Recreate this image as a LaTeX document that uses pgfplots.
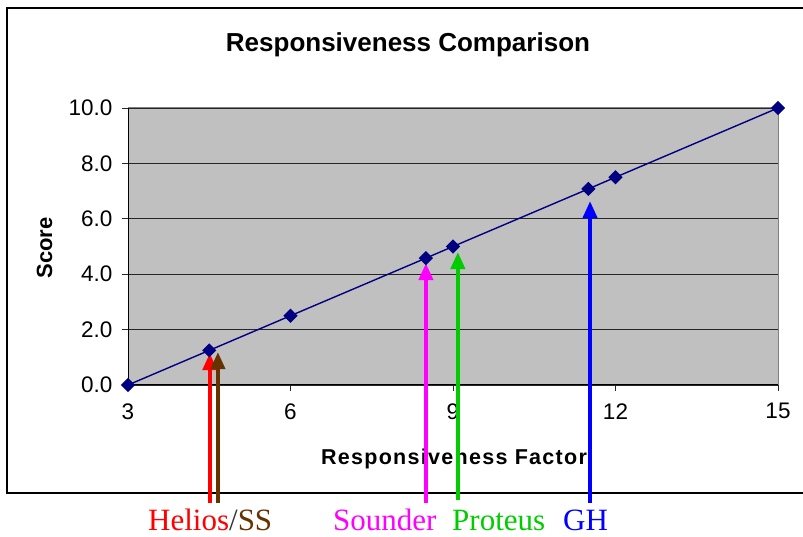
\documentclass[border=0pt]{standalone}
\usepackage{pgfplots}
\pgfplotsset{compat=1.18}
\usepackage{fontspec}
\setmainfont{Liberation Sans}
\newfontfamily\labelserif{Liberation Serif}
\usetikzlibrary{arrows.meta}

\definecolor{plotgray}{RGB}{192,192,192}
\definecolor{navyline}{RGB}{0,0,128}
\definecolor{ssbrown}{RGB}{102,51,0}
\definecolor{protgreen}{RGB}{0,204,0}
\definecolor{soundmag}{RGB}{255,0,255}
\definecolor{helred}{RGB}{255,0,0}
\definecolor{ghblue}{RGB}{0,0,255}

\tikzset{pointer/.style={line width=4bp, -{Triangle[length=17bp,width=14bp]}}}

\begin{document}
\begin{tikzpicture}
\useasboundingbox (0,0) rectangle (803bp,537bp);
\draw[line width=1.5bp] (7bp,44bp) rectangle (840bp,529bp);

% title and axis labels
\node[anchor=base, font=\fontsize{26bp}{30bp}\selectfont\bfseries] at (408bp,485bp) {Responsiveness Comparison};
\node[anchor=base, font=\fontsize{21.5bp}{24bp}\selectfont\bfseries\addfontfeature{LetterSpace=6}] at (454bp,72bp) {Responsiveness Factor};
\node[anchor=base, rotate=90, font=\fontsize{22bp}{24bp}\selectfont\bfseries] at (52bp,289bp) {Score};

\begin{axis}[
    at={(128bp,152bp)}, anchor=south west,
    scale only axis, width=650bp, height=277bp,
    xmin=3, xmax=15, ymin=0, ymax=10,
    xtick={3,6,9,12,15},
    ytick={0,2,4,6,8,10},
    axis background/.style={fill=plotgray},
    ymajorgrids,
    grid style={black!85, line width=0.8bp},
    axis line style={black!50, line width=1bp},
    tick style={black!85, line width=0.8bp},
    tick align=outside, major tick length=6bp,
    xtick pos=left, ytick pos=left,
    /pgf/number format/assume math mode=true,
    yticklabel style={/pgf/number format/fixed, /pgf/number format/fixed zerofill,
                      /pgf/number format/precision=1, xshift=-6bp},
    ticklabel style={font=\fontsize{22.5bp}{26bp}\selectfont},
    xticklabel style={yshift=-9bp},
    clip=false,
]
  \addplot[navyline, line width=1.4bp, smooth, tension=0.3,
           mark=square*, mark size=4.3bp, mark options={fill=navyline, solid, rotate=45}]
  coordinates {
    (3,0) (4.5,1.25) (6,2.5) (8.5,4.58) (9,5) (11.5,7.08) (12,7.5) (15,10)
  };

  % black left and bottom edges
  \draw[black, line width=1bp] (rel axis cs:0,1) -- (rel axis cs:0,0) -- (rel axis cs:1,0);

  % pointers
  \draw[pointer, helred] (axis cs:4.51,-4.26) -- (axis cs:4.51,1.15);
  \draw[pointer, ssbrown] (axis cs:4.66,-4.26) -- (axis cs:4.66,1.19);
  \draw[pointer, soundmag] (axis cs:8.5,-4.26) -- (axis cs:8.5,4.40);
  \draw[pointer, protgreen] (axis cs:9.09,-4.15) -- (axis cs:9.09,4.80);
  \draw[pointer, ghblue] (axis cs:11.53,-4.26) -- (axis cs:11.53,6.64);
\end{axis}

\begin{scope}[every node/.style={anchor=base west, inner sep=0pt, font=\labelserif\fontsize{31bp}{34bp}\selectfont}]
  \node at (148bp,7bp) {\textcolor{helred}{Helios}\textcolor{black!80}{/}\textcolor{ssbrown}{SS}};
  \node at (333bp,7bp) {\textcolor{soundmag}{Sounder}};
  \node at (452bp,7bp) {\textcolor{protgreen}{Proteus}};
  \node at (563bp,7bp) {\textcolor{ghblue}{GH}};
\end{scope}
\end{tikzpicture}
\end{document}
